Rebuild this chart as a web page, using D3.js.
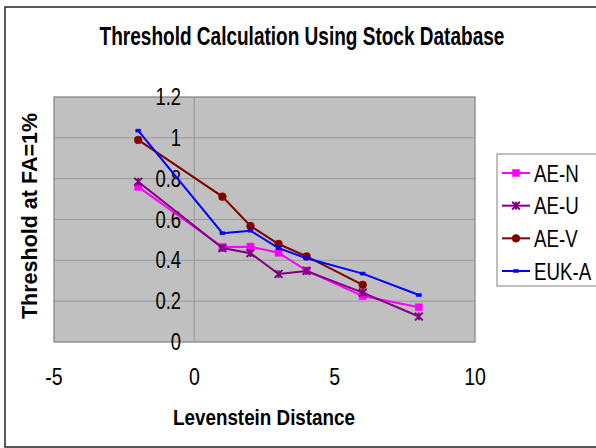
<!DOCTYPE html>
<html>
<head>
<meta charset="utf-8">
<script src="https://cdn.jsdelivr.net/npm/d3@7"></script>
<style>
  body { margin: 0; background: #fff; }
  svg { display: block; font-family: Arial, "Liberation Sans", sans-serif; }
</style>
</head>
<body>
<div id="chart"></div>
<script>
// data
const distances = [-2, 1, 2, 3, 4, 6, 8];
const aeN = [0.76, 0.465, 0.467, 0.437, 0.35, 0.225, 0.17];
const aeU = [0.785, 0.46, 0.435, 0.333, 0.348, 0.242, 0.125];
const aeV = [0.99, 0.712, 0.568, 0.48, 0.419, 0.28, null];
const eukA = [1.035, 0.533, 0.545, 0.46, 0.41, 0.335, 0.23];
const seriesNames = [`AE-N`, `AE-U`, `AE-V`, `EUK-A`];
const xTicks = [-5, 0, 5, 10];
const yTicks = [0, 0.2, 0.4, 0.6, 0.8, 1, 1.2];

const width = 596, height = 448;
const plot = { left: 54, right: 475, top: 97, bottom: 342 };

const svg = d3.select(`#chart`).append(`svg`)
    .attr(`width`, width)
    .attr(`height`, height);

// outer chart border
svg.append(`rect`)
    .attr(`x`, 5).attr(`y`, 7)
    .attr(`width`, 600).attr(`height`, 440)
    .attr(`fill`, `#fff`)
    .attr(`stroke`, `#222`)
    .attr(`stroke-width`, 1.5);

const x = d3.scaleLinear().domain([-5, 10]).range([plot.left, plot.right]);
const y = d3.scaleLinear().domain([0, 1.2]).range([plot.bottom, plot.top]);

// the original uses a narrow face: squeeze text horizontally around its anchor
const squeeze = (sel, sx) => sel.each(function() {
  const t = d3.select(this);
  const x0 = +t.attr(`x`), y0 = +t.attr(`y`);
  const k = typeof sx === `function` ? sx.call(this) : sx;
  t.attr(`x`, 0).attr(`y`, 0)
   .attr(`transform`, `translate(${x0},${y0}) scale(${k},1)`);
});
const fitTo = (w) => function() { return w / this.getComputedTextLength(); };

svg.append(`rect`)
    .attr(`x`, plot.left).attr(`y`, plot.top)
    .attr(`width`, plot.right - plot.left)
    .attr(`height`, plot.bottom - plot.top)
    .attr(`fill`, `#c0c0c0`);

svg.append(`g`).selectAll(`line`)
    .data(yTicks.slice(1, -1))
  .enter().append(`line`)
    .attr(`x1`, plot.left).attr(`x2`, plot.right)
    .attr(`y1`, (d) => y(d)).attr(`y2`, (d) => y(d))
    .attr(`stroke`, `#9a9a9a`)
    .attr(`stroke-width`, 1);

// vertical axis sits at x = 0
svg.append(`line`)
    .attr(`x1`, x(0)).attr(`x2`, x(0))
    .attr(`y1`, plot.top).attr(`y2`, plot.bottom)
    .attr(`stroke`, `#9a9a9a`);

svg.append(`rect`)
    .attr(`x`, plot.left).attr(`y`, plot.top)
    .attr(`width`, plot.right - plot.left)
    .attr(`height`, plot.bottom - plot.top)
    .attr(`fill`, `none`)
    .attr(`stroke`, `#808080`)
    .attr(`stroke-width`, 1.2);

// y tick labels
svg.append(`g`).selectAll(`text`)
    .data(yTicks)
  .enter().append(`text`)
    .attr(`x`, 181)
    .attr(`y`, (d) => y(d) + 8)
    .attr(`text-anchor`, `end`)
    .attr(`font-size`, 23)
    .attr(`fill`, `#000`)
    .text((d) => d3.format(`~g`)(d))
    .call(squeeze, 0.8);

// x tick labels
svg.append(`g`).selectAll(`text`)
    .data(xTicks)
  .enter().append(`text`)
    .attr(`x`, (d) => x(d))
    .attr(`y`, 385)
    .attr(`text-anchor`, `middle`)
    .attr(`font-size`, 23)
    .attr(`fill`, `#000`)
    .text((d) => d)
    .call(squeeze, 0.85);

// titles
svg.append(`text`)
    .attr(`x`, 302).attr(`y`, 45)
    .attr(`text-anchor`, `middle`)
    .attr(`font-size`, 25)
    .attr(`font-weight`, `bold`)
    .text(`Threshold Calculation Using Stock Database`)
    .call(squeeze, fitTo(405));

svg.append(`text`)
    .attr(`x`, 264).attr(`y`, 425)
    .attr(`text-anchor`, `middle`)
    .attr(`font-size`, 22)
    .attr(`font-weight`, `bold`)
    .text(`Levenstein Distance`)
    .call(squeeze, fitTo(182));

svg.append(`text`)
    .attr(`transform`, `translate(37,216) rotate(-90)`)
    .attr(`text-anchor`, `middle`)
    .attr(`font-size`, 21.5)
    .attr(`font-weight`, `bold`)
    .text(`Threshold at FA=1%`);

// markers
const starSymbol = {
  draw(ctx, size) {
    const r = Math.sqrt(size) / 2;
    ctx.moveTo(0, -r); ctx.lineTo(0, r);
    ctx.moveTo(-r, -r); ctx.lineTo(r, r);
    ctx.moveTo(-r, r); ctx.lineTo(r, -r);
  }
};
const dashSymbol = {
  draw(ctx) {
    ctx.rect(-2.5, -1.5, 5, 3);
  }
};

const series = [
  { name: seriesNames[0], values: aeN, color: `#ff00ff`, symbol: d3.symbolSquare, size: 50, fill: true },
  { name: seriesNames[1], values: aeU, color: `#800080`, symbol: starSymbol, size: 60, fill: false },
  { name: seriesNames[2], values: aeV, color: `#800000`, symbol: d3.symbolCircle, size: 48, fill: true },
  { name: seriesNames[3], values: eukA, color: `#0000ff`, symbol: dashSymbol, size: 15, fill: true }
];

const line = d3.line()
    .defined((d) => d[1] != null)
    .x((d) => x(d[0]))
    .y((d) => y(d[1]));

series.forEach((s) => {
  const pts = distances.map((dx, i) => [dx, s.values[i]]);
  const g = svg.append(`g`);
  g.append(`path`)
      .datum(pts)
      .attr(`d`, line)
      .attr(`fill`, `none`)
      .attr(`stroke`, s.color)
      .attr(`stroke-width`, 2);
  g.selectAll(`path.mk`)
      .data(pts.filter((d) => d[1] != null))
    .enter().append(`path`)
      .attr(`class`, `mk`)
      .attr(`transform`, (d) => `translate(${x(d[0])},${y(d[1])})`)
      .attr(`d`, d3.symbol(s.symbol, s.size))
      .attr(`fill`, s.fill ? s.color : `none`)
      .attr(`stroke`, s.color)
      .attr(`stroke-width`, s.fill ? 0.5 : 2);
});

// legend
const legend = svg.append(`g`);
legend.append(`rect`)
    .attr(`x`, 497).attr(`y`, 154)
    .attr(`width`, 110).attr(`height`, 132)
    .attr(`fill`, `#fff`)
    .attr(`stroke`, `#808080`);

const ly = d3.scalePoint().domain(seriesNames).range([173, 271]);
series.forEach((s) => {
  const cy = ly(s.name);
  legend.append(`line`)
      .attr(`x1`, 502).attr(`x2`, 530)
      .attr(`y1`, cy).attr(`y2`, cy)
      .attr(`stroke`, s.color)
      .attr(`stroke-width`, 2);
  legend.append(`path`)
      .attr(`transform`, `translate(516,${cy})`)
      .attr(`d`, d3.symbol(s.symbol, s.size))
      .attr(`fill`, s.fill ? s.color : `none`)
      .attr(`stroke`, s.color)
      .attr(`stroke-width`, s.fill ? 0.5 : 2);
  legend.append(`text`)
      .attr(`x`, 534).attr(`y`, cy + 8.5)
      .attr(`font-size`, 24)
      .attr(`fill`, `#000`)
      .text(s.name)
      .call(squeeze, 0.78);
});
</script>
</body>
</html>
